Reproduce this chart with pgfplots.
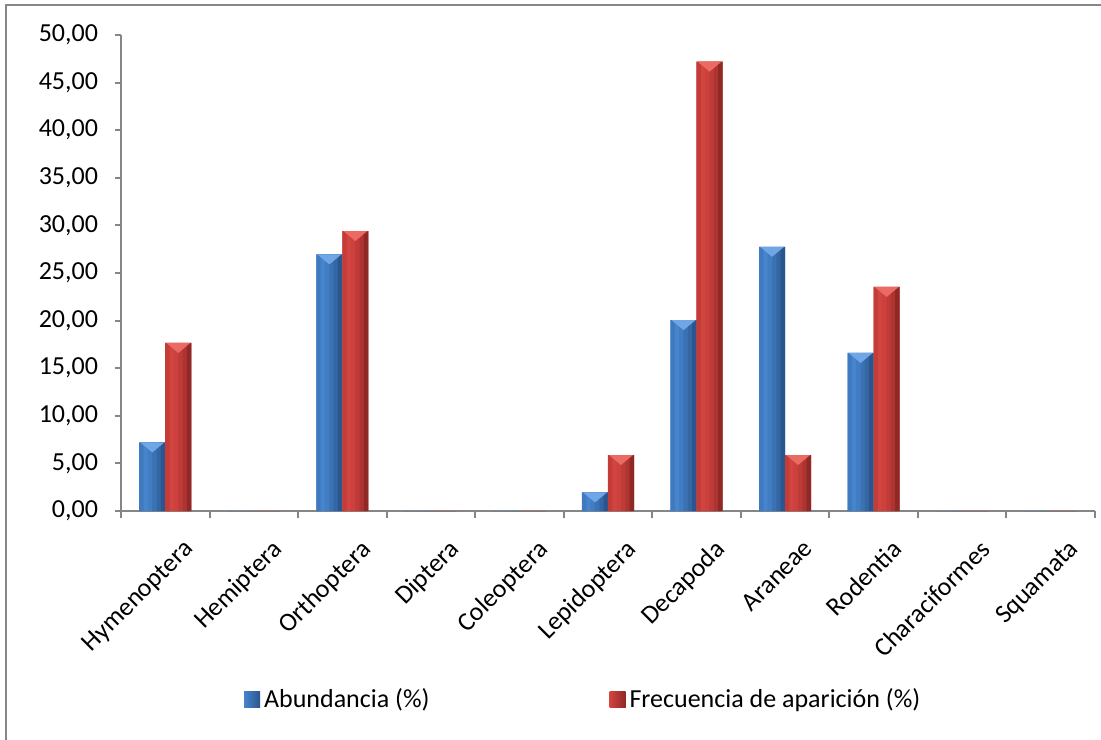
\documentclass[border=0pt]{standalone}
\usepackage{pgfplots}
\pgfplotsset{compat=1.18}
\usepackage{pgfplotstable}
\usepackage{fontspec}
\setmainfont{Carlito}

\definecolor{axgray}{HTML}{868686}
\definecolor{blu0}{HTML}{3F7AC0}
\definecolor{blu1}{HTML}{4684CC}
\definecolor{blu2}{HTML}{417DC3}
\definecolor{blu3}{HTML}{3A72B4}
\definecolor{blu4}{HTML}{3366A3}
\definecolor{blu5}{HTML}{2A568D}
\definecolor{bluT}{HTML}{6FA6E6}
\definecolor{red0}{HTML}{C43C38}
\definecolor{red1}{HTML}{D2443F}
\definecolor{red2}{HTML}{CC413D}
\definecolor{red3}{HTML}{BE3B37}
\definecolor{red4}{HTML}{AD3431}
\definecolor{red5}{HTML}{8F2926}
\definecolor{redT}{HTML}{EC6A64}

% x = posicion de la categoria
\pgfplotstableread{
x abund frec
0  7.20 17.65
1  0    0
2  26.95 29.41
3  0    0
4  0    0
5  1.95 5.88
6  20.05 47.20
7  27.75 5.88
8  16.60 23.53
9  0    0
10 0    0
}\datos

% franja vertical de una barra (para simular el degradado)
\newcommand\franja[3]{\addplot[ybar, forget plot, draw=none, fill=#1, bar width=2.25bp, bar shift=#2] table[x=x, y=#3] {\datos};}

% triangulo claro en la parte alta de cada barra
\pgfdeclareplotmark{bisel}{%
  \pgfpathmoveto{\pgfqpoint{-6bp}{0bp}}%
  \pgfpathlineto{\pgfqpoint{6bp}{0bp}}%
  \pgfpathlineto{\pgfqpoint{0bp}{-5bp}}%
  \pgfpathclose\pgfusepathqfill}

\begin{document}
\begin{tikzpicture}
\path[use as bounding box] (-60.5bp,-114.5bp) rectangle (490bp,255.5bp);
\draw[axgray, line width=1bp] (-57.5bp,-114.5bp) -- (-57.5bp,253bp) -- (490bp,253bp);
\begin{axis}[
    at={(0,0)}, anchor=south west,
    scale only axis, width=487bp, height=238bp,
    xmin=-0.5, xmax=10.5, ymin=0, ymax=50,
    axis x line=bottom, axis y line=left,
    axis line style={-, axgray, line width=1bp},
    xtick={0,...,10},
    xticklabels={Hymenoptera,Hemiptera,Orthoptera,Diptera,Coleoptera,Lepidoptera,Decapoda,Araneae,Rodentia,Characiformes,Squamata},
    minor xtick={-0.5,0.5,...,10.5},
    major x tick style={draw=none},
    minor x tick style={axgray, line width=1bp},
    y tick style={axgray, line width=1bp},
    tick align=outside,
    major tick length=3bp, minor tick length=3.5bp,
    ytick={0,5,...,50},
    tick label style={font=\fontsize{13bp}{15bp}\selectfont, text=black},
    yticklabel style={xshift=-5bp, /pgf/number format/.cd, fixed, fixed zerofill, precision=2, use comma, assume math mode=true},
    xticklabel style={rotate=45, anchor=north east, xshift=2bp, yshift=-10bp},
    legend style={at={(0.126,-0.397)}, anchor=west, draw=none, fill=none,
        legend columns=-1, inner sep=0pt,
        font=\fontsize{13bp}{15bp}\selectfont,
        /tikz/every even column/.append style={column sep=88bp}},
]
\addplot[ybar, draw=none, fill=blu2, bar width=13bp, bar shift=-6.5bp,
  legend image code/.code={\path[left color=blu1, right color=blu5] (0bp,-4bp) rectangle (8bp,4bp);}]
  table[x=x, y=abund] {\datos};
\addplot[ybar, draw=none, fill=red2, bar width=13bp, bar shift=6.5bp,
  legend image code/.code={\path[left color=red1, right color=red5] (0bp,-4bp) rectangle (8bp,4bp);}]
  table[x=x, y=frec] {\datos};
\franja{blu0}{-11.917bp}{abund}
\franja{blu1}{-9.75bp}{abund}
\franja{blu2}{-7.583bp}{abund}
\franja{blu3}{-5.417bp}{abund}
\franja{blu4}{-3.25bp}{abund}
\franja{blu5}{-1.083bp}{abund}
\franja{red0}{1.083bp}{frec}
\franja{red1}{3.25bp}{frec}
\franja{red2}{5.417bp}{frec}
\franja{red3}{7.583bp}{frec}
\franja{red4}{9.75bp}{frec}
\franja{red5}{11.917bp}{frec}
\addplot[forget plot, only marks, mark=bisel, mark options={fill=bluT, draw=none},
  unbounded coords=discard, y filter/.expression={y==0 ? nan : y}]
  table[x expr=\thisrow{x}-0.1468, y=abund] {\datos};
\addplot[forget plot, only marks, mark=bisel, mark options={fill=redT, draw=none},
  unbounded coords=discard, y filter/.expression={y==0 ? nan : y}]
  table[x expr=\thisrow{x}+0.1468, y=frec] {\datos};
\legend{Abundancia (\%), Frecuencia de aparición (\%)}
\end{axis}
\end{tikzpicture}
\end{document}
